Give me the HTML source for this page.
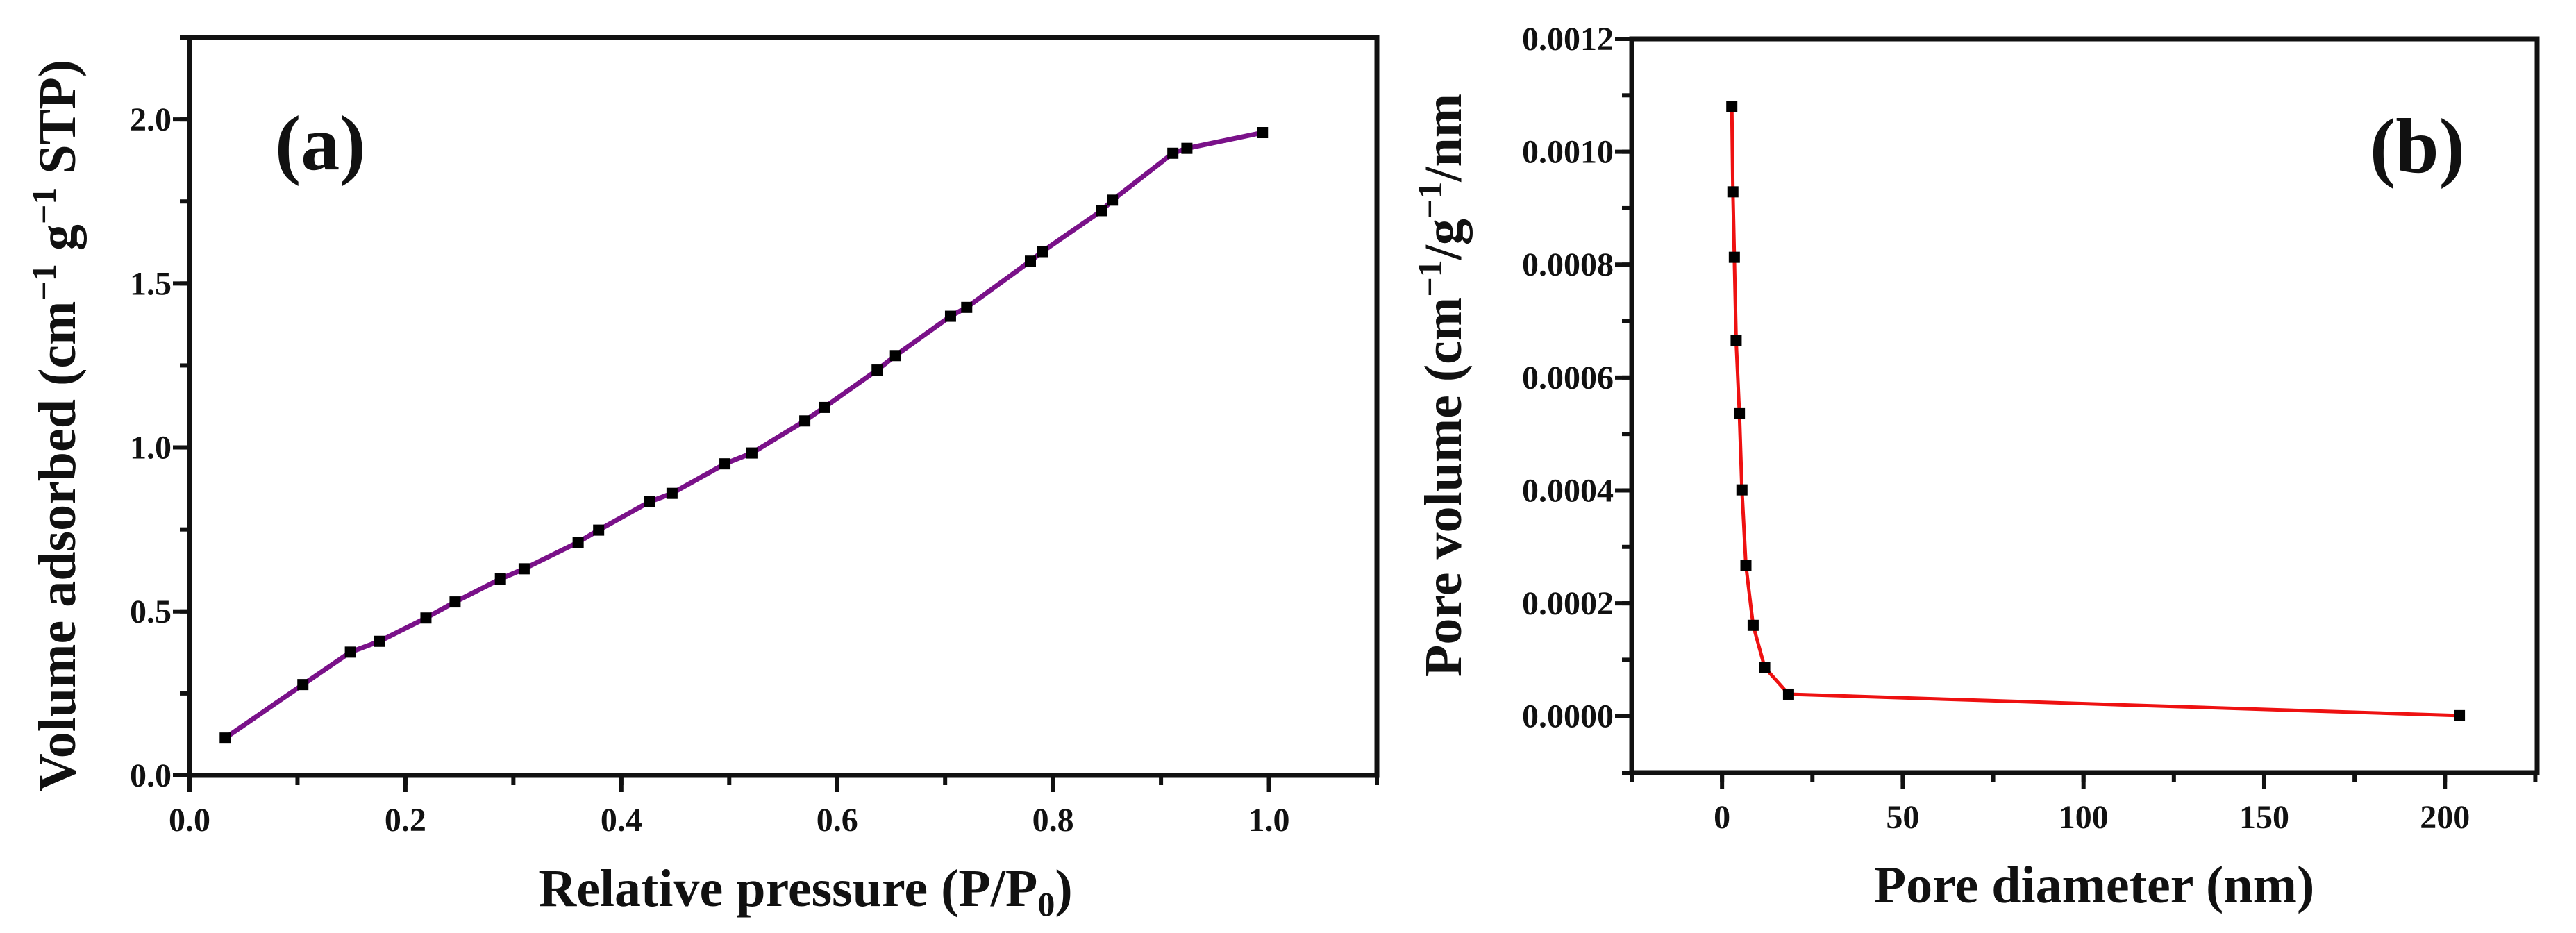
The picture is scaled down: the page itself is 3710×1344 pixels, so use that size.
<!DOCTYPE html>
<html><head><meta charset="utf-8"><style>
html,body{margin:0;padding:0;background:#fff;}
svg{display:block;}
text{font-family:"Liberation Serif","DejaVu Serif",serif;font-weight:bold;fill:#111;}
</style></head><body>
<svg id="fig" width="3710" height="1344" viewBox="0 0 3710 1344" xmlns="http://www.w3.org/2000/svg"></svg>
<script>
// Panel (a) data
const aPressure = [0.033,0.105,0.149,0.176,0.219,0.246,0.288,0.310,0.360,0.379,0.426,0.447,0.496,0.521,0.570,0.588,0.637,0.654,0.705,0.720,0.779,0.790,0.845,0.855,0.911,0.924,0.994];
const aVolume = [0.114,0.277,0.376,0.409,0.480,0.529,0.599,0.630,0.711,0.748,0.834,0.860,0.950,0.983,1.081,1.122,1.236,1.280,1.400,1.427,1.568,1.597,1.722,1.754,1.897,1.912,1.960];
const aXTicks = [0.0,0.2,0.4,0.6,0.8,1.0];
const aXTickLabels = ["0.0","0.2","0.4","0.6","0.8","1.0"];
const aYTicks = [0.0,0.5,1.0,1.5,2.0];
const aYTickLabels = ["0.0","0.5","1.0","1.5","2.0"];
// Panel (b) data
const bDiameter = [2.7,3.0,3.4,3.9,4.8,5.5,6.6,8.6,11.8,18.4,204];
const bPoreVolume = [0.00108,0.000929,0.000813,0.000665,0.000536,0.000401,0.000267,0.000161,0.0000865,0.000039,0.000001];
const bXTicks = [0,50,100,150,200];
const bXTickLabels = ["0","50","100","150","200"];
const bYTicks = [0,0.0002,0.0004,0.0006,0.0008,0.0010,0.0012];
const bYTickLabels = ["0.0000","0.0002","0.0004","0.0006","0.0008","0.0010","0.0012"];

const NS="http://www.w3.org/2000/svg";
const svg=document.getElementById('fig');
function el(tag,attrs,parent,txt){const e=document.createElementNS(NS,tag);for(const k in attrs)e.setAttribute(k,attrs[k]);if(txt!==undefined)e.textContent=txt;(parent||svg).appendChild(e);return e;}

function panel(cfg){
  const g=el('g',{});
  
  
  const sx=v=>cfg.L+(v-cfg.x0)/(cfg.x1-cfg.x0)*(cfg.R-cfg.L);
  const sy=v=>cfg.B-(v-cfg.y0)/(cfg.y1-cfg.y0)*(cfg.B-cfg.T);
  // minor ticks
  for(let v=cfg.xMinorStart;v<=cfg.x1+1e-9;v+=cfg.xMinor){
    const t=el('line',{x1:sx(v),x2:sx(v),y1:cfg.B,y2:cfg.B+14,stroke:'#111','stroke-width':6},g);
    
    
  }
  for(let v=cfg.yMinorStart;v<=cfg.y1+1e-12;v+=cfg.yMinor){
    const t=el('line',{x1:cfg.L-14,x2:cfg.L,y1:sy(v),y2:sy(v),stroke:'#111','stroke-width':6},g);
    
    
  }
  cfg.xTicks.forEach((v,i)=>{
    const t=el('line',{x1:sx(v),x2:sx(v),y1:cfg.B,y2:cfg.B+24,stroke:'#111','stroke-width':6},g);
    
    
    const l=el('text',{x:sx(v),y:cfg.B+80,'text-anchor':'middle','font-size':48},g,cfg.xLabels[i]);
    
    
  });
  cfg.yTicks.forEach((v,i)=>{
    const t=el('line',{x1:cfg.L-24,x2:cfg.L,y1:sy(v),y2:sy(v),stroke:'#111','stroke-width':6},g);
    
    
    const l=el('text',{x:cfg.L-26,y:sy(v)+16,'text-anchor':'end','font-size':48},g,cfg.yLabels[i]);
    
    
  });
  const f=el('rect',{x:cfg.L,y:cfg.T,width:cfg.R-cfg.L,height:cfg.B-cfg.T,fill:'none',stroke:'#111','stroke-width':7},g);
  
  
  const pts=cfg.xs.map((x,i)=>sx(x)+','+sy(cfg.ys[i])).join(' ');
  const pl=el('polyline',{points:pts,fill:'none',stroke:cfg.color,'stroke-width':cfg.lw,'stroke-linejoin':'round'},g);
  
  
  cfg.xs.forEach((x,i)=>{
    const m=el('rect',{x:sx(x)-8,y:sy(cfg.ys[i])-8,width:16,height:16,fill:'#000'},g);
    
    
  });
  return g;
}

panel({name:'panel-a',L:273,R:1983,T:54,B:1117,x0:0,x1:1.1,y0:0,y1:2.25,
  xMinor:0.1,xMinorStart:0.1,yMinor:0.25,yMinorStart:0.25,
  xTicks:aXTicks,xLabels:aXTickLabels,yTicks:aYTicks,yLabels:aYTickLabels,
  xs:aPressure,ys:aVolume,color:'#7a1189',lw:7});
panel({name:'panel-b',L:2350,R:3654,T:56,B:1113,x0:-25,x1:225.5,y0:-0.0001,y1:0.0012,
  xMinor:25,xMinorStart:-25,yMinor:0.0001,yMinorStart:-0.0001,
  xTicks:bXTicks,xLabels:bXTickLabels,yTicks:bYTicks,yLabels:bYTickLabels,
  xs:bDiameter,ys:bPoreVolume,color:'#ee1111',lw:5});
</script>
<svg style="position:absolute;left:0;top:0" width="3710" height="1344" xmlns="http://www.w3.org/2000/svg">
  <text x="396" y="244" font-size="112">(a)</text>
  <text x="3413" y="248" font-size="112">(b)</text>
  <text x="1160" y="1305" text-anchor="middle" font-size="76">Relative pressure (P/P<tspan font-size="50" dy="14">0</tspan><tspan dy="-14">)</tspan></text>
  <text x="3016" y="1300" text-anchor="middle" font-size="76">Pore diameter (nm)</text>
  <text transform="translate(108,613) rotate(-90)" text-anchor="middle" font-size="76">Volume adsorbed (cm<tspan font-size="50" dy="-28">−1</tspan><tspan dy="28"> g</tspan><tspan font-size="50" dy="-28">−1</tspan><tspan dy="28"> STP)</tspan></text>
  <text transform="translate(2104,555) rotate(-90)" text-anchor="middle" font-size="76">Pore volume (cm<tspan font-size="50" dy="-28">−1</tspan><tspan dy="28">/g</tspan><tspan font-size="50" dy="-28">−1</tspan><tspan dy="28">/nm</tspan></text>
</svg>
</body></html>
